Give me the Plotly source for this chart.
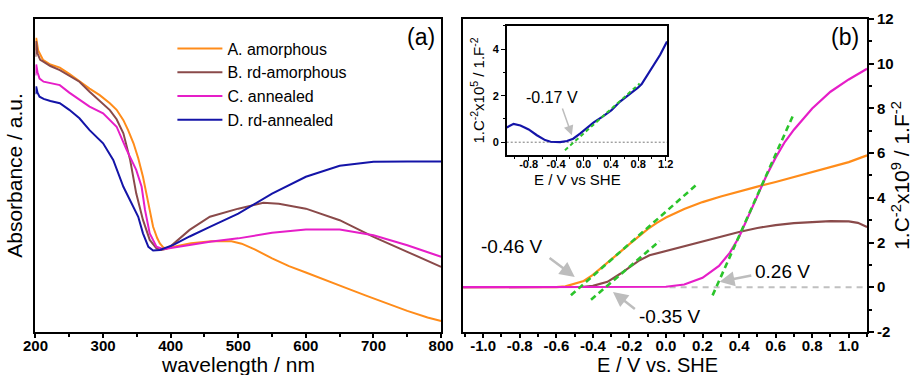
import plotly.graph_objects as go

# ---------------- Panel (a): UV-vis absorbance ----------------
wl_A = [200, 201, 204, 211, 222, 236, 250, 265, 280, 295, 310, 320, 330, 337, 345, 352, 359, 367, 374, 380,
        384, 389, 394, 410, 430, 460, 490, 505, 525, 550, 575, 600, 630, 660, 690, 720, 750, 780, 800]
abs_A = [0.90, 0.94, 0.90, 0.87, 0.855, 0.845, 0.825, 0.80, 0.778, 0.757, 0.731, 0.71, 0.677, 0.645, 0.603,
         0.555, 0.496, 0.411, 0.336, 0.30, 0.283, 0.27, 0.267, 0.275, 0.283, 0.29, 0.29, 0.282, 0.263, 0.235,
         0.21, 0.19, 0.166, 0.14, 0.115, 0.09, 0.067, 0.046, 0.035]

wl_B = [200, 201, 203, 207, 211, 222, 236, 250, 265, 280, 295, 310, 320, 330, 340, 349, 359, 369, 379, 386,
        392, 399, 428, 458, 500, 537, 560, 600, 650, 700, 750, 800]
abs_B = [0.88, 0.93, 0.89, 0.87, 0.865, 0.85, 0.837, 0.82, 0.80, 0.768, 0.74, 0.709, 0.68, 0.635, 0.55,
         0.443, 0.358, 0.294, 0.267, 0.262, 0.265, 0.272, 0.326, 0.368, 0.394, 0.413, 0.41, 0.394, 0.357,
         0.304, 0.256, 0.208]

wl_C = [200, 201, 203, 206, 212, 222, 236, 250, 265, 280, 300, 320, 335, 349, 357, 362, 369, 379, 389, 400,
        409, 430, 458, 500, 550, 600, 650, 700, 750, 800]
abs_C = [0.82, 0.855, 0.83, 0.81, 0.80, 0.795, 0.789, 0.765, 0.741, 0.72, 0.699, 0.656, 0.581, 0.518, 0.464,
         0.39, 0.315, 0.272, 0.264, 0.268, 0.272, 0.28, 0.288, 0.299, 0.317, 0.327, 0.327, 0.309, 0.277, 0.24]

wl_D = [200, 201, 203, 206, 212, 222, 236, 250, 265, 280, 300, 315, 330, 344, 352, 359, 367, 374, 384, 404,
        428, 458, 500, 550, 600, 650, 700, 750, 800]
abs_D = [0.76, 0.785, 0.765, 0.752, 0.745, 0.738, 0.731, 0.71, 0.683, 0.645, 0.603, 0.55, 0.464, 0.40, 0.368,
         0.315, 0.272, 0.26, 0.262, 0.278, 0.305, 0.336, 0.378, 0.442, 0.496, 0.531, 0.544, 0.545, 0.545]

names = ["A. amorphous", "B. rd-amorphous", "C. annealed", "D. rd-annealed"]
colors = ["#ff8c1a", "#8a4a4a", "#e61ec8", "#1414a8"]

# tick labels
wl_ticks = [200, 300, 400, 500, 600, 700, 800]
E_ticks = [-1.0, -0.8, -0.6, -0.4, -0.2, 0.0, 0.2, 0.4, 0.6, 0.8, 1.0]
MS_ticks = [-2, 0, 2, 4, 6, 8, 10, 12]
inset_E_ticks = [-0.8, -0.4, 0.0, 0.4, 0.8, 1.2]
inset_MS_ticks = [0, 2, 4]

# ---------------- Panel (b): Mott-Schottky ----------------
E_A = [-1.11, -0.6, -0.55, -0.5, -0.45, -0.4, -0.35, -0.3, -0.25, -0.2, -0.15, -0.1, -0.05, 0.0, 0.1, 0.2,
       0.3, 0.4, 0.5, 0.6, 0.7, 0.8, 0.9, 1.0, 1.1]
MS_A = [0, 0, 0.04, 0.15, 0.28, 0.55, 0.88, 1.22, 1.58, 1.93, 2.28, 2.6, 2.88, 3.12, 3.5, 3.81, 4.06, 4.29,
        4.5, 4.71, 4.93, 5.16, 5.37, 5.6, 5.9]

E_B = [-1.11, -0.5, -0.45, -0.4, -0.32, -0.25, -0.2, -0.15, -0.09, 0.02, 0.1, 0.2, 0.3, 0.4, 0.5, 0.6, 0.7,
       0.8, 0.9, 1.0, 1.05, 1.1]
MS_B = [0, 0, 0.02, 0.06, 0.24, 0.6, 0.91, 1.18, 1.43, 1.66, 1.85, 2.06, 2.27, 2.47, 2.65, 2.78, 2.87, 2.93,
        2.96, 2.95, 2.88, 2.7]

E_C = [-1.11, -0.05, 0.0, 0.1, 0.2, 0.29, 0.35, 0.4, 0.45, 0.5, 0.55, 0.6, 0.65, 0.7, 0.75, 0.8, 0.9, 1.0, 1.1]
MS_C = [0, 0, 0.02, 0.12, 0.42, 0.95, 1.55, 2.25, 3.15, 4.05, 5.0, 5.8, 6.5, 7.05, 7.55, 8.0, 8.75, 9.3, 9.78]

# linear fits (flat-band potential, slope, fitted range)
fit_E0 = [-0.47, -0.33, 0.275]
fit_slope = [7.2, 7.0, 18.3]
fit_from = [-0.52, -0.41, 0.255]
fit_to = [0.165, -0.035, 0.70]

# Inset: rd-annealed
E_D = [-1.12, -1.02, -0.92, -0.8, -0.68, -0.56, -0.48, -0.40, -0.34, -0.24, -0.15, -0.05, 0.05, 0.15, 0.29,
       0.41, 0.53, 0.68, 0.8, 0.85, 0.97, 1.12, 1.22]
MS_D = [0.63, 0.79, 0.72, 0.55, 0.30, 0.09, 0.02, -0.01, 0.0, 0.05, 0.15, 0.37, 0.6, 0.85, 1.12, 1.38, 1.74,
        2.07, 2.36, 2.5, 3.04, 3.76, 4.33]
fitD_E0, fitD_slope, fitD_from, fitD_to = -0.14, 2.63, -0.27, 0.82

fig = go.Figure()

for x, y, n, c in zip([wl_A, wl_B, wl_C, wl_D], [abs_A, abs_B, abs_C, abs_D], names, colors):
    fig.add_trace(go.Scatter(x=x, y=y, name=n, mode="lines", line=dict(color=c, width=2),
                             xaxis="x", yaxis="y"))

# zero reference in (b)
fig.add_trace(go.Scatter(x=[0.02, 1.1], y=[0, 0], mode="lines", showlegend=False,
                         line=dict(color="#c0c0c0", width=2, dash="6px,5px"), xaxis="x2", yaxis="y2"))

for x, y, c in zip([E_A, E_B, E_C], [MS_A, MS_B, MS_C], colors[:3]):
    fig.add_trace(go.Scatter(x=x, y=y, mode="lines", showlegend=False, line=dict(color=c, width=2.2),
                             xaxis="x2", yaxis="y2"))

for e0, s, a, b in zip(fit_E0, fit_slope, fit_from, fit_to):
    fig.add_trace(go.Scatter(x=[a, b], y=[s * (a - e0), s * (b - e0)], mode="lines", showlegend=False,
                             line=dict(color="#2bc42b", width=2.6, dash="6px,4px"), xaxis="x2", yaxis="y2"))

# inset
fig.add_trace(go.Scatter(x=[-1.12, 1.22], y=[0, 0], mode="lines", showlegend=False,
                         line=dict(color="#555555", width=0.8, dash="2px,2px"), xaxis="x3", yaxis="y3"))
fig.add_trace(go.Scatter(x=E_D, y=MS_D, mode="lines", showlegend=False, line=dict(color=colors[3], width=2.2),
                         xaxis="x3", yaxis="y3"))
fig.add_trace(go.Scatter(x=[fitD_from, fitD_to],
                         y=[fitD_slope * (fitD_from - fitD_E0), fitD_slope * (fitD_to - fitD_E0)],
                         mode="lines", showlegend=False, line=dict(color="#2bc42b", width=2, dash="4px,3px"),
                         xaxis="x3", yaxis="y3"))

FONT = "Liberation Sans, Arial, sans-serif"
tickfont = dict(family=FONT, size=15, color="black")
axline = dict(showline=True, linecolor="black", linewidth=2, mirror=True, zeroline=False, showgrid=False,
              automargin=False)


def bold(vals, fmt):
    return [f"<b>{fmt.format(v)}</b>" for v in vals]


fig.update_layout(
    width=917, height=375, margin=dict(l=0, r=0, t=0, b=0, autoexpand=False),
    paper_bgcolor="white", plot_bgcolor="white",
    font=dict(family=FONT, color="black"),
    showlegend=True,
    legend=dict(x=0.188, y=0.916, xanchor="left", yanchor="top", bgcolor="rgba(0,0,0,0)",
                font=dict(family=FONT, size=16, color="black"), itemwidth=45, tracegroupgap=0),
    xaxis=dict(domain=[0.0387, 0.481], anchor="y", range=[200, 800],
               tickvals=wl_ticks, ticktext=bold(wl_ticks, "{:d}"), ticks="outside", ticklen=4,
               tickwidth=1.5, tickcolor="black", tickfont=tickfont, ticklabelstandoff=-5,
               minor=dict(dtick=50, ticks="outside", ticklen=3, tickcolor="black"), **axline),
    yaxis=dict(domain=[0.115, 0.949], anchor="x", range=[0, 1], showticklabels=False, ticks="",
               title=dict(text="Absorbance / a.u.", font=dict(size=21), standoff=5), **axline),
    xaxis2=dict(domain=[0.505, 0.9455], anchor="y2", range=[-1.11, 1.1],
                tickvals=E_ticks, ticktext=bold(E_ticks, "{:.1f}"), ticklabelstandoff=-5,
                ticks="outside", ticklen=4, tickwidth=1.5, tickcolor="black", tickfont=tickfont,
                minor=dict(dtick=0.1, tick0=0, ticks="outside", ticklen=3, tickcolor="black"), **axline),
    yaxis2=dict(domain=[0.115, 0.949], anchor="x2", side="right", range=[-2, 12],
                tickvals=MS_ticks, ticktext=bold(MS_ticks, "{:d}"),
                ticks="outside", ticklen=5, tickwidth=1.5, tickcolor="black", tickfont=tickfont,
                minor=dict(dtick=1, ticks="outside", ticklen=3, tickcolor="black"),
                title=dict(text="1.C<sup>-2</sup>x10<sup>9</sup> / 1.F<sup>-2</sup>", font=dict(size=21),
                           standoff=2), **axline),
    xaxis3=dict(domain=[0.5526, 0.7274], anchor="y3", range=[-1.12, 1.22],
                tickvals=inset_E_ticks, ticktext=bold(inset_E_ticks, "{:.1f}"), ticklabelstandoff=-6,
                ticks="outside", ticklen=4, tickcolor="black",
                tickfont=dict(family=FONT, size=11, color="black"),
                minor=dict(dtick=0.2, tick0=0, ticks="outside", ticklen=2, tickcolor="black"),
                showline=True, linecolor="black", linewidth=1.5, mirror=True, zeroline=False, showgrid=False,
                automargin=False),
    yaxis3=dict(domain=[0.5867, 0.9307], anchor="x3", range=[-0.55, 5],
                tickvals=inset_MS_ticks, ticktext=bold(inset_MS_ticks, "{:d}"),
                ticks="outside", ticklen=4, tickcolor="black",
                tickfont=dict(family=FONT, size=11, color="black"),
                minor=dict(dtick=1, ticks="outside", ticklen=2, tickcolor="black"),
                title=dict(text="1.C<sup>-2</sup>x10<sup>5</sup> / 1.F<sup>-2</sup>", font=dict(size=15),
                           standoff=4),
                showline=True, linecolor="black", linewidth=1.5, mirror=True, zeroline=False, showgrid=False,
                automargin=False),
)

ann_font = dict(family=FONT, size=19, color="black")
annotations = [
    dict(text="wavelength / nm", x=0.259, y=0.0267, xref="paper", yref="paper", showarrow=False,
         xanchor="center", yanchor="middle", font=dict(family=FONT, size=21, color="black")),
    dict(text="E / V vs. SHE", x=0.717, y=0.0267, xref="paper", yref="paper", showarrow=False,
         xanchor="center", yanchor="middle", font=dict(family=FONT, size=20, color="black")),
    dict(text="E / V vs SHE", x=0.6298, y=0.5215, xref="paper", yref="paper", showarrow=False,
         xanchor="center", yanchor="middle", font=dict(family=FONT, size=15, color="black")),
    dict(text="(a)", x=0.459, y=0.90, xref="paper", yref="paper", showarrow=False,
         xanchor="center", yanchor="middle", font=dict(family=FONT, size=23, color="black")),
    dict(text="(b)", x=0.9215, y=0.90, xref="paper", yref="paper", showarrow=False,
         xanchor="center", yanchor="middle", font=dict(family=FONT, size=23, color="black")),
    dict(text="-0.46 V", x=-0.845, y=1.81, xref="x2", yref="y2", showarrow=False, font=ann_font),
    dict(text="-0.35 V", x=0.024, y=-1.33, xref="x2", yref="y2", showarrow=False, font=ann_font),
    dict(text="0.26 V", x=0.639, y=0.69, xref="x2", yref="y2", showarrow=False, font=ann_font),
    dict(text="-0.17 V", x=-0.46, y=1.94, xref="x3", yref="y3", showarrow=False,
         font=dict(family=FONT, size=16, color="black")),
]
arrow_style = dict(text="", showarrow=True, arrowhead=2, arrowsize=1.2, arrowwidth=2.5, arrowcolor="#bdbdbd")
arrows = [
    ("x2", "y2", -0.499, 0.46, -0.645, 1.36),
    ("x2", "y2", -0.29, -0.21, -0.162, -1.03),
    ("x2", "y2", 0.293, 0.24, 0.475, 0.54),
    ("x3", "y3", -0.17, 0.30, -0.315, 1.52),
]
for xr, yr, hx, hy, tx, ty in arrows:
    a = dict(arrow_style, x=hx, y=hy, ax=tx, ay=ty, xref=xr, yref=yr, axref=xr, ayref=yr)
    if xr == "x3":
        a.update(arrowwidth=1.5, arrowsize=1.3)
    annotations.append(a)
fig.update_layout(annotations=annotations)

fig.write_html("out.html")
